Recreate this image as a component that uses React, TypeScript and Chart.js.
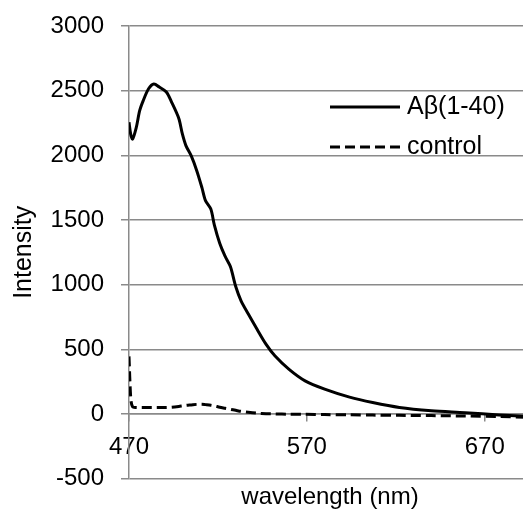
import React, { useEffect, useRef } from "react";
import { Chart, registerables } from "chart.js";

Chart.register(...registerables);

// ---- data ----
const wavelengths = [
  470, 471, 472, 474, 476, 478, 481, 484, 487, 491, 494, 498, 500, 502, 505,
  508, 511, 513, 516, 518, 521, 524, 527, 530, 533, 537, 542, 547, 552, 560,
  569, 580, 594, 607, 622, 640, 659, 678, 696,
];
const abetaValues = [
  2255, 2160, 2126, 2210, 2345, 2423, 2515, 2552, 2528, 2490, 2410, 2285, 2165,
  2075, 1995, 1885, 1750, 1650, 1584, 1460, 1320, 1220, 1140, 985, 875, 775,
  655, 540, 450, 345, 256, 192, 130, 88, 50, 25, 10, -8, -20,
];
const controlValues = [
  445, 120, 55, 50, 50, 50, 50, 50, 50, 50, 52, 58, 62, 66, 70, 74, 75, 72,
  67, 62, 52, 44, 36, 28, 20, 13, 6, 2, 0, -2, -3, -5, -7, -9, -11, -13, -16,
  -20, -26,
];
const seriesLabels = ["A\u03b2(1-40)", "control"];
const xTickValues = [470, 570, 670];
const xMin = 470;
const xMax = 696;
const yMin = -500;
const yMax = 3000;
const yStep = 500;
const xTitle = "wavelength (nm)";
const yTitle = "Intensity";

const FONT = "'Liberation Sans', Arial, sans-serif";
const GRID = "#8a8a8a";

const insideLegend = {
  id: "insideLegend",
  afterDraw(chart: any) {
    const { ctx, chartArea } = chart;
    const x0 = chartArea.left + 201;
    const lineLen = 70;
    const gap = 7;
    const rows = [chartArea.top + 81, chartArea.top + 121];
    chart.data.datasets.forEach((ds: any, i: number) => {
      const y = rows[i];
      ctx.save();
      ctx.strokeStyle = ds.borderColor;
      ctx.lineWidth = ds.borderWidth;
      ctx.setLineDash(ds.borderDash || []);
      ctx.beginPath();
      ctx.moveTo(x0, y);
      ctx.lineTo(x0 + lineLen, y);
      ctx.stroke();
      ctx.setLineDash([]);
      ctx.fillStyle = "#000";
      ctx.font = `25px ${FONT}`;
      ctx.textBaseline = "middle";
      ctx.textAlign = "left";
      ctx.fillText(ds.label, x0 + lineLen + gap, y);
      ctx.restore();
    });
  },
};

export default function App() {
  const ref = useRef<HTMLCanvasElement | null>(null);

  useEffect(() => {
    if (!ref.current) return;
    const chart = new Chart(ref.current, {
      type: "line",
      data: {
        datasets: [
          {
            label: seriesLabels[0],
            data: wavelengths.map((x, i) => ({ x, y: abetaValues[i] })),
            borderColor: "#000",
            borderWidth: 3,
            pointRadius: 0,
            tension: 0.3,
            fill: false,
          },
          {
            label: seriesLabels[1],
            data: wavelengths.map((x, i) => ({ x, y: controlValues[i] })),
            borderColor: "#000",
            borderWidth: 3,
            borderDash: [10, 5],
            pointRadius: 0,
            tension: 0.3,
            fill: false,
          },
        ],
      },
      options: {
        responsive: false,
        animation: false,
        layout: { padding: { top: 18, left: 0, right: 0, bottom: 0 } },
        plugins: {
          legend: { display: false },
          tooltip: { enabled: false },
          title: {
            display: true,
            text: xTitle,
            position: "bottom",
            fullSize: false,
            color: "#000",
            font: { family: FONT, size: 24, weight: "normal", lineHeight: 1.1 },
            padding: { top: 6, bottom: 0 },
          },
        },
        scales: {
          x: {
            type: "linear",
            min: xMin,
            max: xMax,
            position: { y: 0 } as any,
            afterBuildTicks: (scale: any) => {
              scale.ticks = xTickValues.map((v) => ({ value: v }));
            },
            afterFit: (scale: any) => {
              scale.paddingTop = 0;
              scale.paddingBottom = 0;
            },
            grid: {
              drawOnChartArea: false,
              drawTicks: true,
              tickLength: 7,
              color: GRID,
              lineWidth: 1.5,
            },
            border: { display: true, color: GRID, width: 1.5 },
            ticks: {
              color: "#000",
              font: { family: FONT, size: 24 },
              padding: 12,
              maxRotation: 0,
              callback: (v: any) => String(v),
            },
          },
          y: {
            type: "linear",
            min: yMin,
            max: yMax,
            afterFit: (scale: any) => {
              scale.width = 121;
              scale.paddingTop = 0;
              scale.paddingBottom = 0;
            },
            grid: {
              color: GRID,
              lineWidth: 1.5,
              tickLength: 8,
              drawTicks: true,
            },
            border: { display: true, color: GRID, width: 1.5 },
            ticks: {
              stepSize: yStep,
              color: "#000",
              font: { family: FONT, size: 24 },
              padding: 17,
              callback: (v: any) => String(v),
            },
            title: {
              display: true,
              text: yTitle,
              color: "#000",
              font: { family: FONT, size: 25 },
              padding: { top: 1, bottom: 0 },
            },
          },
        },
      },
      plugins: [insideLegend],
    });
    return () => chart.destroy();
  }, []);

  return (
    <div>
      <canvas ref={ref} width={523} height={503} style={{ display: "block" }} />
    </div>
  );
}
